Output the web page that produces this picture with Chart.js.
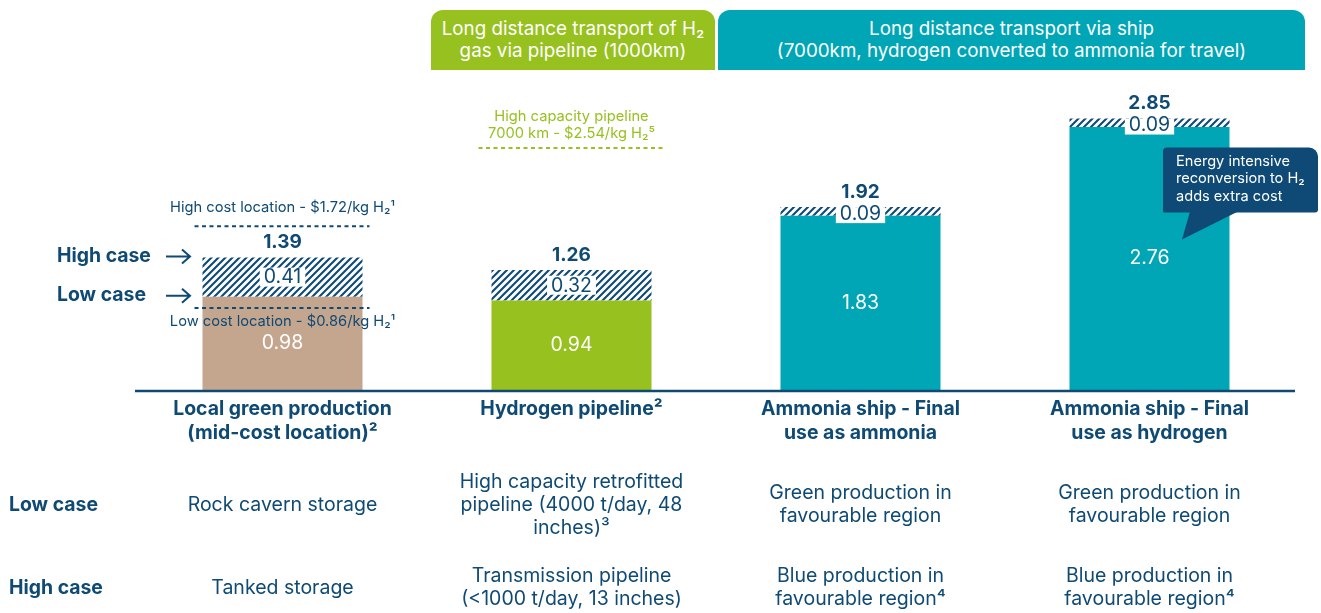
<!DOCTYPE html>
<html><head><meta charset="utf-8">
<script src="https://cdn.jsdelivr.net/npm/chart.js@4.4.1/dist/chart.umd.min.js"></script>
<style>
html,body{margin:0;padding:0;background:#fff;width:1321px;height:613px;overflow:hidden;font-family:Inter,sans-serif}
#wrap{position:absolute;left:0;top:0;width:1321px;height:613px}
.hdr{position:absolute;top:10px;height:60px;color:#fff;font:18.8px/22px Inter,sans-serif;text-align:center;display:flex;align-items:center;justify-content:center;border-radius:12px 12px 0 0}
</style></head><body>
<div id="wrap"><canvas id="c" width="1321" height="613"></canvas></div>
<div class="hdr" style="left:431px;width:284px;background:#97c11f">Long distance transport of H₂<br>gas via pipeline (1000km)</div>
<div class="hdr" style="left:718px;width:587px;background:#00a6b5">Long distance transport via ship<br>(7000km, hydrogen converted to ammonia for travel)</div>
<script>
const categories = [["Local green production","(mid-cost location)²"],["Hydrogen pipeline²"],["Ammonia ship - Final","use as ammonia"],["Ammonia ship - Final","use as hydrogen"]];
const lowCase = [0.98, 0.94, 1.83, 2.76];
const highCaseExtra = [0.41, 0.32, 0.09, 0.09];
const totals = [1.39, 1.26, 1.92, 2.85];
const barColors = ["#c4a68f", "#97c11f", "#00a6b5", "#00a6b5"];
const rowLabels = ["Low case", "High case"];
const lowCaseRow = [["Rock cavern storage"],["High capacity retrofitted","pipeline (4000 t/day, 48","inches)³"],["Green production in","favourable region"],["Green production in","favourable region"]];
const highCaseRow = [["Tanked storage"],["Transmission pipeline","(<1000 t/day, 13 inches)"],["Blue production in","favourable region⁴"],["Blue production in","favourable region⁴"]];
const highCostLocation = 1.72;
const lowCostLocation = 0.86;
const highCapacityPipeline = 2.54;

const navy = '#0f4a75';
const green = '#97c11f';

function makeHatch(){
  const s = 7, c = document.createElement('canvas');
  c.width = s; c.height = s;
  const g = c.getContext('2d');
  g.fillStyle = '#fff'; g.fillRect(0,0,s,s);
  g.strokeStyle = navy; g.lineWidth = 2.1;
  g.beginPath();
  g.moveTo(0,s); g.lineTo(s,0);
  g.moveTo(-2,2); g.lineTo(2,-2);
  g.moveTo(s-2,s+2); g.lineTo(s+2,s-2);
  g.stroke();
  return g.createPattern(c,'repeat');
}

function dashed(ctx, x1, x2, yy, color){
  ctx.save();
  ctx.strokeStyle = color; ctx.lineWidth = 2; ctx.setLineDash([4,3.5]);
  ctx.beginPath(); ctx.moveTo(x1, yy); ctx.lineTo(x2, yy); ctx.stroke();
  ctx.restore();
}
function arrow(ctx, x1, x2, yy){
  ctx.save();
  ctx.strokeStyle = navy; ctx.lineWidth = 2;
  ctx.beginPath(); ctx.moveTo(x1, yy); ctx.lineTo(x2, yy);
  ctx.moveTo(x2-8, yy-7); ctx.lineTo(x2, yy); ctx.lineTo(x2-8, yy+7);
  ctx.stroke(); ctx.restore();
}

const deco = {
  id: 'deco',
  afterDatasetsDraw(chart){
    const {ctx, chartArea:a, scales:{x, y}} = chart;
    const m0 = chart.getDatasetMeta(0), m1 = chart.getDatasetMeta(1);
    const y0 = y.getPixelForValue(0);
    ctx.save();
    ctx.strokeStyle = navy; ctx.lineWidth = 2.5;
    ctx.beginPath(); ctx.moveTo(a.left-3, y0+1); ctx.lineTo(a.right+1, y0+1); ctx.stroke();
    ctx.textAlign = 'center'; ctx.textBaseline = 'middle';
    categories.forEach((cat, i) => {
      const bb = m0.data[i], bt = m1.data[i];
      const cx = bb.x;
      ctx.fillStyle = '#fff'; ctx.font = '19.5px Inter';
      ctx.fillText(lowCase[i].toFixed(2), cx, (bb.y + bb.base)/2);
      const segTop = bt.y, segBot = bt.base;
      const txt = highCaseExtra[i].toFixed(2);
      const tall = (segBot - segTop) > 20;
      const w = ctx.measureText(txt).width + 8, h = tall ? 19 : 16;
      const cy = Math.max((segTop+segBot)/2, segTop + h/2);
      ctx.fillStyle = '#fff'; ctx.fillRect(cx - w/2, cy - h/2, w, h);
      ctx.fillStyle = navy; ctx.fillText(txt, cx, tall ? cy + 0.5 : cy - 1);
      ctx.font = 'bold 19px Inter';
      ctx.fillText(totals[i].toFixed(2), cx, segTop - 15);
      ctx.font = 'bold 19.4px Inter';
      cat.forEach((l, k) => ctx.fillText(l, cx, y0 + 19 + k*24));
      ctx.font = '19.5px Inter';
      [[lowCaseRow[i], 505], [highCaseRow[i], 588]].forEach(([lines, ry]) => {
        const st = ry - (lines.length-1)*23/2;
        lines.forEach((l, k) => ctx.fillText(l, cx, st + k*23));
      });
    });
    ctx.textAlign = 'left'; ctx.font = 'bold 19.4px Inter';
    ctx.fillText(rowLabels[0], 9, 505);
    ctx.fillText(rowLabels[1], 9, 588);
    const b0 = m0.data[0], t0 = m1.data[0];
    ctx.fillText(rowLabels[1], 57, t0.y - 1);
    ctx.fillText(rowLabels[0], 57, b0.y - 1);
    arrow(ctx, 166, 190, t0.y - 1);
    arrow(ctx, 166, 190, b0.y - 1);
    const L0 = b0.x - b0.width/2, R0 = b0.x + b0.width/2;
    const yh = y.getPixelForValue(highCostLocation), yl = y.getPixelForValue(lowCostLocation);
    dashed(ctx, L0 - 8, R0 + 7, yh, navy);
    dashed(ctx, L0 - 8, R0 + 7, yl, navy);
    ctx.textAlign = 'center'; ctx.font = '14.7px Inter'; ctx.fillStyle = navy;
    ctx.fillText('High cost location - $1.72/kg H₂¹', b0.x, yh - 19);
    ctx.fillText('Low cost location - $0.86/kg H₂¹', b0.x, yl + 14);
    const b1 = m0.data[1];
    const yp = y.getPixelForValue(highCapacityPipeline);
    dashed(ctx, b1.x - b1.width/2 - 13, b1.x + b1.width/2 + 12, yp, green);
    ctx.fillStyle = green;
    ctx.fillText('High capacity pipeline', b1.x, yp - 31);
    ctx.fillText('7000 km - $2.54/kg H₂⁵', b1.x, yp - 14);
    const b3 = m1.data[3];
    const bx = b3.x + 13.5, by = b3.y + 29, bw = 155, bh = 65;
    ctx.fillStyle = '#0e4a75';
    ctx.beginPath();
    ctx.roundRect(bx, by, bw, bh, [4, 9, 3, 1]);
    ctx.fill();
    ctx.beginPath();
    ctx.moveTo(bx + 27, by + bh - 1); ctx.lineTo(bx + 75, by + bh - 1); ctx.lineTo(bx + 19, by + bh + 27); ctx.closePath();
    ctx.fill();
    ctx.fillStyle = '#fff'; ctx.textAlign = 'left'; ctx.font = '14.6px Inter';
    ['Energy intensive','reconversion to H₂','adds extra cost'].forEach((l,k)=>ctx.fillText(l, bx + 13, by + 14 + k*17.5));
    ctx.restore();
  }
};

const hatch = makeHatch();
new Chart(document.getElementById('c'), {
  type: 'bar',
  data: {
    labels: categories.map(c => c.join(' ')),
    datasets: [
      { data: lowCase, backgroundColor: barColors, borderWidth: 0 },
      { data: highCaseExtra, backgroundColor: hatch, borderWidth: 0 }
    ]
  },
  options: {
    responsive: false, animation: false, events: [],
    devicePixelRatio: 1,
    layout: { padding: { top: 9, bottom: 223, left: 138, right: 27 } },
    datasets: { bar: { barPercentage: 160/289, categoryPercentage: 1 } },
    scales: {
      x: { stacked: true, display: false },
      y: { stacked: true, display: false, min: 0, max: 4 }
    },
    plugins: { legend: { display: false }, tooltip: { enabled: false } }
  },
  plugins: [deco]
});
</script>
</body></html>
